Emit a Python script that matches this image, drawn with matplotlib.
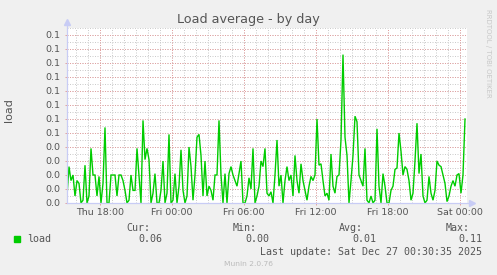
import matplotlib
matplotlib.use("Agg")
import matplotlib.pyplot as plt
from matplotlib.patches import Rectangle
import pandas as pd

title = "Load average - by day"
ylabel = "load"
series_name = "load"
start_time = "2025-12-25 15:15"
end_time = "2025-12-27 00:35"
step = "10min"

load = [
    0.005, 0.026, 0.016, 0.02, 0.005, 0.016, 0.014, 0.0, 0.002, 0.027, 0.0, 0.005, 0.039, 0.02, 0.02,
    0.005, 0.019, 0.0, 0.014, 0.054, 0.0, 0.0, 0.02, 0.02, 0.02, 0.005, 0.02, 0.02, 0.016,
    0.009, 0.0, 0.002, 0.02, 0.009, 0.009, 0.039, 0.019, 0.0, 0.059, 0.031, 0.039, 0.031, 0.0, 0.007,
    0.021, 0.0, 0.0, 0.009, 0.03, 0.0, 0.007, 0.049, 0.0, 0.002, 0.021, 0.0, 0.012, 0.038,
    0.009, 0.0, 0.005, 0.04, 0.026, 0.002, 0.02, 0.047, 0.049, 0.034, 0.005, 0.03, 0.005, 0.012, 0.009,
    0.002, 0.02, 0.02, 0.059, 0.02, 0.0, 0.021, 0.0, 0.021, 0.026, 0.02, 0.016, 0.012, 0.021,
    0.03, 0.0, 0.0, 0.005, 0.018, 0.01, 0.039, 0.0, 0.005, 0.012, 0.03, 0.026, 0.039, 0.007, 0.005,
    0.008, 0.0, 0.02, 0.045, 0.012, 0.02, 0.0, 0.016, 0.026, 0.016, 0.02, 0.005, 0.034, 0.016,
    0.007, 0.028, 0.016, 0.009, 0.002, 0.012, 0.019, 0.016, 0.02, 0.06, 0.027, 0.028, 0.016, 0.005, 0.007,
    0.002, 0.035, 0.012, 0.007, 0.019, 0.02, 0.045, 0.106, 0.047, 0.034, 0.0, 0.016, 0.034, 0.062,
    0.058, 0.02, 0.016, 0.012, 0.039, 0.002, 0.0, 0.005, 0.0, 0.002, 0.053, 0.012, 0.0, 0.021, 0.012,
    0.0, 0.0, 0.009, 0.012, 0.024, 0.025, 0.05, 0.037, 0.02, 0.026, 0.024, 0.016, 0.002, 0.007,
    0.03, 0.057, 0.021, 0.035, 0.005, 0.0, 0.002, 0.019, 0.007, 0.002, 0.009, 0.03, 0.027, 0.026, 0.02,
    0.014, 0.001, 0.005, 0.012, 0.016, 0.012, 0.02, 0.021, 0.007, 0.02, 0.06,
]

x_tick_times = ["2025-12-25 18:00", "2025-12-26 00:00", "2025-12-26 06:00",
                "2025-12-26 12:00", "2025-12-26 18:00", "2025-12-27 00:00"]
x_tick_labels = ["Thu 18:00", "Fri 00:00", "Fri 06:00", "Fri 12:00", "Fri 18:00", "Sat 00:00"]
y_ticks = [0.00, 0.01, 0.02, 0.03, 0.04, 0.05, 0.06, 0.07, 0.08, 0.09, 0.10, 0.11, 0.12]
y_tick_labels = ["0.0", "0.0", "0.0", "0.0", "0.0", "0.1", "0.1", "0.1", "0.1", "0.1", "0.1", "0.1", "0.1"]
y_max = 0.125

stat_names = ["Cur:", "Min:", "Avg:", "Max:"]
stat_values = ["0.06", "0.00", "0.01", "0.11"]
last_update = "Last update: Sat Dec 27 00:30:35 2025"
version = "Munin 2.0.76"
watermark = "RRDTOOL / TOBI OETIKER"

# ---- geometry / style ----
W, H = 497, 275
BG = "#f0f0f0"
TXT = "#555555"
GREEN = "#00cc00"
MAJ = "#e3a0a0"
MIN = "#cccccc"
AXC = "#c8ccf5"

t0 = pd.Timestamp(start_time)
def hours(ts):
    return (pd.Timestamp(ts) - t0) / pd.Timedelta(hours=1)

times = pd.date_range(start_time, periods=len(load), freq=step)
xs = [(t - t0) / pd.Timedelta(hours=1) for t in times]
x_end = hours(end_time)

fig = plt.figure(figsize=(W / 100, H / 100), dpi=100, facecolor=BG)
L, R, T, B = 67, 467, 28, 203
ax = fig.add_axes([L / W, 1 - B / H, (R - L) / W, (B - T) / H])
ax.set_facecolor("white")
for s in ax.spines.values():
    s.set_visible(False)

ax.set_xlim(0, x_end)
ax.set_ylim(0, y_max)

# grid
import numpy as np
minor_y = np.arange(0.005, y_max + 1e-9, 0.005)
for v in minor_y:
    ax.axhline(v, color=MIN, lw=0.72, ls=(0, (1, 1.5)), zorder=1)
for v in y_ticks[1:]:
    ax.axhline(v, color=MAJ, lw=0.72, ls=(0, (1, 1.5)), zorder=1.5)
first_hour = np.ceil(0.0 + (t0.minute / 60.0)) - t0.minute / 60.0
h = first_hour
while h < x_end:
    ax.axvline(h, color=MIN, lw=0.72, ls=(0, (1, 1.5)), zorder=1)
    h += 1.0
tick_pos = [hours(t) for t in x_tick_times]
for p in tick_pos:
    ax.axvline(p, color=MAJ, lw=0.72, ls=(0, (1, 1.5)), zorder=1.5)

ax.set_xticks(tick_pos)
ax.set_xticklabels(x_tick_labels)
ax.set_yticks(y_ticks)
ax.set_yticklabels(y_tick_labels)
ax.tick_params(axis="both", length=1.5, width=0.7, color=MAJ, labelsize=6.8,
               labelcolor=TXT)
ax.tick_params(axis="y", pad=3.6)
ax.tick_params(axis="x", pad=2.2)

ax.plot(xs, load, color=GREEN, lw=1.0, zorder=3, solid_joinstyle="miter")

# axes lines with arrows
ax.plot([0, 0], [0, 1.035], transform=ax.transAxes, color=AXC, lw=0.9, clip_on=False, zorder=4)
ax.plot([0], [1.035], transform=ax.transAxes, marker="^", ms=4, color=AXC, clip_on=False, zorder=4)
ax.plot([0, 1.012], [0, 0], transform=ax.transAxes, color=AXC, lw=0.9, clip_on=False, zorder=4)
ax.plot([1.012], [0], transform=ax.transAxes, marker=">", ms=4, color=AXC, clip_on=False, zorder=4)

def ft(x, y, s, **kw):
    fig.text(x / W, 1 - y / H, s, **kw)

ft(248.5, 19, title, ha="center", va="center", fontsize=9.2, color=TXT)
ft(9, 110, ylabel, ha="center", va="center", rotation=90, fontsize=8, color=TXT)
ft(488, 53, watermark, ha="center", va="center", rotation=270, fontsize=5, color="#c8c8c8")

fig.patches.append(Rectangle((14 / W, 1 - 242 / H), 6 / W, 6 / H, transform=fig.transFigure,
                             facecolor=GREEN, edgecolor=GREEN))
mono = "DejaVu Sans Mono"
ft(27, 239, series_name, ha="left", va="center", fontsize=7.2, family=mono, color=TXT)
name_right = [150, 257, 363, 470]
val_right = [162, 269, 376, 482]
for n, v, xn, xv in zip(stat_names, stat_values, name_right, val_right):
    ft(xn, 228, n, ha="right", va="center", fontsize=7.2, family=mono, color=TXT)
    ft(xv, 239, v, ha="right", va="center", fontsize=7.2, family=mono, color=TXT)
ft(482, 252, last_update, ha="right", va="center", fontsize=7.2, family=mono, color=TXT)
ft(248, 264, version, ha="center", va="center", fontsize=5.4, color="#bbbbbb")

fig.savefig("out.png", dpi=100, facecolor=BG)
